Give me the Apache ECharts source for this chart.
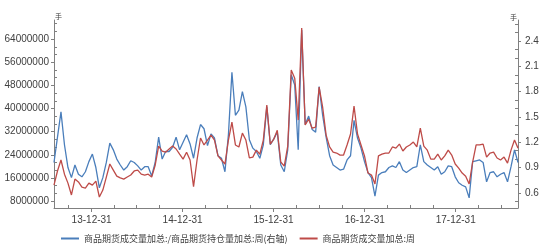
<!DOCTYPE html>
<html><head><meta charset="utf-8">
<script src="https://cdn.jsdelivr.net/npm/echarts@6/dist/echarts.min.js"></script>
<style>html,body{margin:0;padding:0;background:#fff}#c{width:550px;height:251px}</style>
</head><body><div id="c"></div>
<script>
// ---- data ----
const dates = ['2013-08-02','2013-08-16','2013-08-30','2013-09-13','2013-09-27','2013-10-11','2013-10-25','2013-11-08','2013-11-22','2013-12-06','2013-12-20',
'2014-01-03','2014-01-17','2014-01-31','2014-02-14','2014-02-28','2014-03-14','2014-03-28','2014-04-11','2014-04-25','2014-05-09','2014-05-23','2014-06-06','2014-06-20','2014-07-04','2014-07-18','2014-08-01','2014-08-15','2014-08-29','2014-09-12','2014-09-26','2014-10-10','2014-10-24','2014-11-07','2014-11-21','2014-12-05','2014-12-19',
'2015-01-02','2015-01-16','2015-01-30','2015-02-13','2015-02-27','2015-03-13','2015-03-27','2015-04-10','2015-04-24','2015-05-08','2015-05-22','2015-06-05','2015-06-19','2015-07-03','2015-07-17','2015-07-31','2015-08-14','2015-08-28','2015-09-11','2015-09-25','2015-10-09','2015-10-23','2015-11-06','2015-11-20','2015-12-04','2015-12-18',
'2016-01-01','2016-01-15','2016-01-29','2016-02-12','2016-02-26','2016-03-11','2016-03-25','2016-04-08','2016-04-22','2016-05-06','2016-05-20','2016-06-03','2016-06-17','2016-07-01','2016-07-15','2016-07-29','2016-08-12','2016-08-26','2016-09-09','2016-09-23','2016-10-07','2016-10-21','2016-11-04','2016-11-18','2016-12-02','2016-12-16','2016-12-30',
'2017-01-13','2017-01-27','2017-02-10','2017-02-24','2017-03-10','2017-03-24','2017-04-07','2017-04-21','2017-05-05','2017-05-19','2017-06-02','2017-06-16','2017-06-30','2017-07-14','2017-07-28','2017-08-11','2017-08-25','2017-09-08','2017-09-22','2017-10-06','2017-10-20','2017-11-03','2017-11-17','2017-12-01','2017-12-15','2017-12-29',
'2018-01-12','2018-01-26','2018-02-09','2018-02-23','2018-03-09','2018-03-23','2018-04-06','2018-04-20','2018-05-04','2018-05-18','2018-06-01','2018-06-15','2018-06-29','2018-07-13','2018-07-27','2018-08-10','2018-08-24','2018-09-07'];

// 商品期货成交量加总 / 商品期货持仓量加总 (right axis)
const ratioValues = [0.96,1.26,1.56,1.17,0.90,0.78,0.93,0.82,0.79,0.85,0.97,
1.06,0.90,0.66,0.78,0.96,1.19,1.11,1.00,0.93,0.87,0.91,0.98,0.96,0.92,0.87,0.91,0.91,0.80,0.96,1.26,1.00,1.09,1.09,1.14,1.26,1.11,
1.20,1.29,1.18,1.01,1.25,1.41,1.36,1.16,1.30,1.25,1.04,1.01,0.85,1.29,2.03,1.52,1.58,1.80,1.62,1.23,1.13,1.09,1.01,1.17,1.62,1.17,
1.24,1.32,0.93,0.85,1.11,2.00,1.88,1.11,2.53,1.41,1.51,1.35,1.32,1.86,1.52,1.26,1.04,0.93,0.90,0.87,0.88,0.99,1.04,1.46,1.25,1.13,0.97,
0.84,0.78,0.56,0.81,0.84,0.85,0.90,0.92,0.90,0.97,0.87,0.84,0.87,0.90,0.91,1.17,0.97,0.93,0.90,0.87,0.91,0.82,0.85,0.92,0.91,0.79,
0.72,0.69,0.67,0.54,0.97,0.98,0.99,0.96,0.73,0.84,0.85,0.79,0.82,0.84,0.73,0.91,1.11,0.96];

// 商品期货成交量加总 (left axis)
const volumeValues = [13500000,18400000,22200000,17300000,14200000,10100000,15600000,14600000,12800000,12500000,14200000,
13500000,14900000,9400000,11800000,16300000,20800000,18700000,16600000,16000000,15600000,16300000,17000000,18400000,18700000,17300000,17000000,17300000,16300000,20400000,27000000,25300000,24900000,26000000,27000000,26000000,24200000,
22500000,24900000,22200000,13000000,22200000,29800000,27400000,29100000,30800000,29100000,23600000,22200000,20800000,29100000,35300000,27400000,26700000,31500000,29100000,22900000,23200000,25600000,24200000,29100000,41200000,27700000,
29400000,32500000,21500000,20100000,27000000,53300000,50500000,36000000,67800000,34300000,36300000,33200000,33600000,47400000,40500000,30800000,26700000,24900000,24600000,23900000,23900000,27400000,31200000,40800000,31200000,27400000,23600000,
17700000,17000000,13900000,23600000,24200000,24600000,24600000,26700000,26300000,27700000,25300000,26700000,27400000,28400000,26700000,33200000,27000000,25600000,22500000,22500000,24200000,22200000,23600000,25600000,23900000,20800000,
19400000,17700000,16600000,13900000,21500000,27400000,27400000,27700000,23200000,24600000,24900000,22900000,22200000,23200000,21100000,25600000,29100000,26300000];

const seriesNames = ['商品期货成交量加总:/商品期货持仓量加总:周(右轴)', '商品期货成交量加总:周'];
const leftTickLabels = [8000000,16000000,24000000,32000000,40000000,48000000,56000000,64000000];
const rightTickLabels = [0.6,0.9,1.2,1.5,1.8,2.1,2.4];
const yearTickDates = ['2013-12-31','2014-12-31','2015-12-31','2016-12-31','2017-12-31'];
const quarterTickDates = ['2013-09-30','2014-03-31','2014-06-30','2014-09-30','2015-03-31','2015-06-30','2015-09-30',
  '2016-03-31','2016-06-30','2016-09-30','2017-03-31','2017-06-30','2017-09-30','2018-03-31','2018-06-30'];
const unitLabel = '手';

// ---- helpers ----
function ts(s){const p=s.split('-');return new Date(+p[0],+p[1]-1,+p[2]).getTime();}
function pad(n){return n<10?'0'+n:''+n;}
function fmtDate(v){const d=new Date(v);return pad(d.getFullYear()%100)+'-'+pad(d.getMonth()+1)+'-'+pad(d.getDate());}

const xMin = ts('2013-08-02'), xMax = ts('2018-09-07');
const lMin = 5600000, lMax = 70600000;
const rMin = 0.42, rMax = 2.65;
const leftMinor = [], rightMinor = [];
for (let i = 0; i < leftTickLabels.length; i++) {
  const b = leftTickLabels[i], st = 8000000/3;
  [-2,-1,1,2].forEach(k=>{const v=Math.round(b+k*st); if(v>lMin&&v<lMax&&leftMinor.indexOf(v)<0) leftMinor.push(v);});
}
for (let i = 0; i < rightTickLabels.length; i++) {
  const b = rightTickLabels[i];
  [-0.2,-0.1,0.1,0.2].forEach(k=>{const v=+(b+k).toFixed(2); if(v>rMin&&v<rMax&&rightMinor.indexOf(v)<0) rightMinor.push(v);});
}
leftMinor.sort((a,b)=>a-b); rightMinor.sort((a,b)=>a-b);

const axisCol = '#808080', txtCol = '#404040';
const chart = echarts.init(document.getElementById('c'), null, {renderer:'canvas'});
chart.setOption({
  animation: false,
  backgroundColor: '#fff',
  grid: {left: 54, right: 32, top: 20, bottom: 43, containLabel: false},
  legend: {
    left: 61, top: 234, padding: 0, itemWidth: 18, itemHeight: 2, itemGap: 12, icon: 'rect',
    textStyle: {fontSize: 9, color: txtCol, fontFamily: 'Noto Sans CJK SC'},
    data: seriesNames
  },
  xAxis: [{
    type: 'value', min: xMin, max: xMax, position: 'bottom',
    axisLine: {show: true, lineStyle: {color: axisCol, width: 1}},
    axisTick: {show: true, customValues: yearTickDates.map(ts), length: 4, lineStyle: {color: axisCol}},
    axisLabel: {customValues: yearTickDates.map(ts), formatter: fmtDate, fontSize: 10, color: txtCol, margin: 7, fontFamily: 'Liberation Sans'},
    splitLine: {show: false}
  }, {
    type: 'value', min: xMin, max: xMax, position: 'bottom', offset: 0,
    axisLine: {show: false},
    axisTick: {show: true, inside: true, customValues: quarterTickDates.map(ts), length: 3, lineStyle: {color: axisCol}},
    axisLabel: {show: false}, splitLine: {show: false}
  }],
  yAxis: [{
    type: 'value', min: lMin, max: lMax, position: 'left',
    axisLine: {show: true, lineStyle: {color: axisCol}},
    axisTick: {show: true, customValues: leftTickLabels, length: 3, lineStyle: {color: axisCol}},
    axisLabel: {customValues: leftTickLabels, formatter: v => String(Math.round(v)), fontSize: 10, color: txtCol, margin: 5, fontFamily: 'Liberation Sans'},
    splitLine: {show: false}
  }, {
    type: 'value', min: rMin, max: rMax, position: 'right',
    axisLine: {show: true, lineStyle: {color: axisCol}},
    axisTick: {show: true, customValues: rightTickLabels, length: 3, lineStyle: {color: axisCol}},
    axisLabel: {customValues: rightTickLabels, formatter: v => (+v).toFixed(1), fontSize: 10, color: txtCol, margin: 7, fontFamily: 'Liberation Sans'},
    splitLine: {show: false}
  }, {
    type: 'value', min: lMin, max: lMax, position: 'left', offset: 0,
    axisLine: {show: false},
    axisTick: {show: true, inside: true, customValues: leftMinor, length: 3, lineStyle: {color: axisCol}},
    axisLabel: {show: false}, splitLine: {show: false}
  }, {
    type: 'value', min: rMin, max: rMax, position: 'right', offset: 0,
    axisLine: {show: false},
    axisTick: {show: true, inside: true, customValues: rightMinor, length: 3, lineStyle: {color: axisCol}},
    axisLabel: {show: false}, splitLine: {show: false}
  }],
  graphic: [
    {type: 'text', left: 55, top: 13, style: {text: unitLabel, fontSize: 7, fill: txtCol, fontFamily: 'Noto Sans CJK SC'}},
    {type: 'text', left: 510, top: 14, style: {text: unitLabel, fontSize: 7, fill: txtCol, fontFamily: 'Noto Sans CJK SC'}}
  ],
  series: [{
    name: seriesNames[0], type: 'line', xAxisIndex: 0, yAxisIndex: 1,
    data: dates.map((d, i) => [ts(d), ratioValues[i]]),
    showSymbol: false, symbol: 'none', lineStyle: {color: '#4a7ebb', width: 1.3}, itemStyle: {color: '#4a7ebb'}
  }, {
    name: seriesNames[1], type: 'line', xAxisIndex: 0, yAxisIndex: 0,
    data: dates.map((d, i) => [ts(d), volumeValues[i]]),
    showSymbol: false, symbol: 'none', lineStyle: {color: '#be4b48', width: 1.3}, itemStyle: {color: '#be4b48'}
  }]
});
</script>
</body></html>
